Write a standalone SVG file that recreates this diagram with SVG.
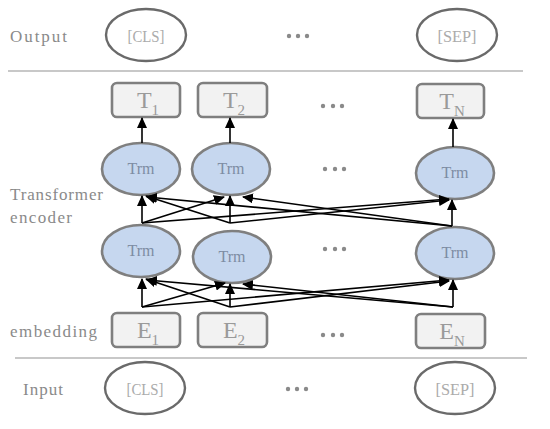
<svg xmlns="http://www.w3.org/2000/svg" width="550" height="429" viewBox="0 0 550 429">
<defs>
<style>
.lbl{font-family:"Liberation Serif","DejaVu Serif",serif;font-size:17px;fill:#8a8a8a}
.tok{fill:#fff;stroke:#6a6a6a;stroke-width:2.4}
.tokt{font-family:"Liberation Serif","DejaVu Serif",serif;font-size:17px;fill:#ababab;text-anchor:middle}
.box{fill:#f2f2f2;stroke:#7f7f7f;stroke-width:2.6}
.boxt{font-family:"Liberation Serif","DejaVu Serif",serif;font-size:24px;fill:#9a9a9a;text-anchor:middle}
.sub{font-size:15px}
.trm{fill:#c6d7ef;stroke:#7f7f7f;stroke-width:2.6}
.trmt{font-family:"Liberation Serif","DejaVu Serif",serif;font-size:16px;fill:#7d8ca3;text-anchor:middle}
.sep{stroke:#c8c8c8;stroke-width:2}
.dot{fill:#8a8a8a}
.arr{stroke:#000;stroke-width:1.6;fill:none;marker-end:url(#ah)}
</style>
<marker id="ah" markerUnits="userSpaceOnUse" markerWidth="11" markerHeight="10" refX="10" refY="5" orient="auto">
<path d="M0,0 L11,5 L0,10 Z" fill="#000"/>
</marker>
</defs>

<g id="labels">
<text class="lbl" x="10" y="42" textLength="57" lengthAdjust="spacing">Output</text>
<text class="lbl" x="10" y="200" textLength="93" lengthAdjust="spacing">Transformer</text>
<text class="lbl" x="10" y="223" textLength="62" lengthAdjust="spacing">encoder</text>
<text class="lbl" x="10" y="337" textLength="87" lengthAdjust="spacing">embedding</text>
<text class="lbl" x="23" y="395" textLength="40" lengthAdjust="spacing">Input</text>
</g>

<g id="separators">
<line class="sep" x1="8" y1="71" x2="523" y2="71"/>
<line class="sep" x1="15" y1="358" x2="527" y2="358"/>
</g>

<g id="out-cls"><ellipse class="tok" cx="146" cy="35" rx="40" ry="26"/><text class="tokt" x="146" y="42" textLength="37" lengthAdjust="spacingAndGlyphs">[CLS]</text></g>
<g id="out-sep"><ellipse class="tok" cx="457" cy="35" rx="40" ry="26"/><text class="tokt" x="457" y="42" textLength="39" lengthAdjust="spacingAndGlyphs">[SEP]</text></g>
<g id="out-dots"><circle class="dot" cx="289" cy="36" r="2.2"/><circle class="dot" cx="298" cy="36" r="2.2"/><circle class="dot" cx="307" cy="36" r="2.2"/></g>

<g id="t1"><rect class="box" x="112" y="83" width="68" height="34" rx="5"/><text class="boxt" x="148" y="108">T<tspan class="sub" dy="7">1</tspan></text></g>
<g id="t2"><rect class="box" x="198" y="83" width="69" height="34" rx="5"/><text class="boxt" x="234" y="108">T<tspan class="sub" dy="7">2</tspan></text></g>
<g id="tn"><rect class="box" x="417" y="84" width="67" height="34" rx="5"/><text class="boxt" x="452" y="109">T<tspan class="sub" dy="7">N</tspan></text></g>
<g id="t-dots"><circle class="dot" cx="323" cy="106" r="2.2"/><circle class="dot" cx="333" cy="106" r="2.2"/><circle class="dot" cx="342" cy="106" r="2.2"/></g>

<g id="trm-top-1"><ellipse class="trm" cx="141" cy="169" rx="39" ry="26"/><text class="trmt" x="141" y="174">Trm</text></g>
<g id="trm-top-2"><ellipse class="trm" cx="231" cy="169" rx="39" ry="26"/><text class="trmt" x="231" y="174">Trm</text></g>
<g id="trm-top-n"><ellipse class="trm" cx="455" cy="173" rx="39" ry="26"/><text class="trmt" x="455" y="178">Trm</text></g>
<g id="trm-top-dots"><circle class="dot" cx="325" cy="169" r="2.2"/><circle class="dot" cx="335" cy="169" r="2.2"/><circle class="dot" cx="344" cy="169" r="2.2"/></g>

<g id="trm-bot-1"><ellipse class="trm" cx="141" cy="251" rx="39" ry="26"/><text class="trmt" x="141" y="256">Trm</text></g>
<g id="trm-bot-2"><ellipse class="trm" cx="232" cy="257" rx="39" ry="26"/><text class="trmt" x="232" y="262">Trm</text></g>
<g id="trm-bot-n"><ellipse class="trm" cx="455" cy="253" rx="39" ry="26"/><text class="trmt" x="455" y="258">Trm</text></g>
<g id="trm-bot-dots"><circle class="dot" cx="325" cy="249" r="2.2"/><circle class="dot" cx="335" cy="249" r="2.2"/><circle class="dot" cx="344" cy="249" r="2.2"/></g>

<g id="e1"><rect class="box" x="112" y="313" width="68" height="34" rx="5"/><text class="boxt" x="148" y="338">E<tspan class="sub" dy="7">1</tspan></text></g>
<g id="e2"><rect class="box" x="198" y="313" width="69" height="34" rx="5"/><text class="boxt" x="234" y="338">E<tspan class="sub" dy="7">2</tspan></text></g>
<g id="en"><rect class="box" x="416" y="314" width="69" height="34" rx="5"/><text class="boxt" x="452" y="339">E<tspan class="sub" dy="7">N</tspan></text></g>
<g id="e-dots"><circle class="dot" cx="323" cy="335" r="2.2"/><circle class="dot" cx="333" cy="335" r="2.2"/><circle class="dot" cx="342" cy="335" r="2.2"/></g>

<g id="in-cls"><ellipse class="tok" cx="145" cy="388" rx="40" ry="26"/><text class="tokt" x="145" y="395" textLength="37" lengthAdjust="spacingAndGlyphs">[CLS]</text></g>
<g id="in-sep"><ellipse class="tok" cx="455" cy="388" rx="40" ry="26"/><text class="tokt" x="455" y="395" textLength="39" lengthAdjust="spacingAndGlyphs">[SEP]</text></g>
<g id="in-dots"><circle class="dot" cx="288" cy="389" r="2.2"/><circle class="dot" cx="297" cy="389" r="2.2"/><circle class="dot" cx="306" cy="389" r="2.2"/></g>

<g id="connectors">
<line class="arr" x1="142" y1="143" x2="142" y2="118"/>
<line class="arr" x1="230" y1="143" x2="230" y2="118"/>
<line class="arr" x1="453" y1="147" x2="453" y2="119"/>

<line class="arr" x1="142" y1="223" x2="142" y2="196"/>
<line class="arr" x1="142" y1="223" x2="224" y2="197"/>
<line class="arr" x1="142" y1="223" x2="449" y2="199"/>
<line class="arr" x1="230" y1="223" x2="146" y2="196"/>
<line class="arr" x1="230" y1="223" x2="230" y2="196"/>
<line class="arr" x1="230" y1="223" x2="449" y2="200"/>
<line class="arr" x1="452" y1="226" x2="147" y2="197"/>
<line class="arr" x1="452" y1="226" x2="243" y2="197"/>
<line class="arr" x1="452" y1="226" x2="452" y2="200"/>

<line class="arr" x1="142" y1="307" x2="142" y2="279"/>
<line class="arr" x1="142" y1="307" x2="225" y2="283"/>
<line class="arr" x1="142" y1="307" x2="449" y2="280"/>
<line class="arr" x1="230" y1="307" x2="146" y2="279"/>
<line class="arr" x1="230" y1="307" x2="230" y2="284"/>
<line class="arr" x1="230" y1="307" x2="449" y2="281"/>
<line class="arr" x1="453" y1="307" x2="147" y2="280"/>
<line class="arr" x1="453" y1="307" x2="243" y2="284"/>
<line class="arr" x1="453" y1="307" x2="453" y2="280"/>
</g>
</svg>
